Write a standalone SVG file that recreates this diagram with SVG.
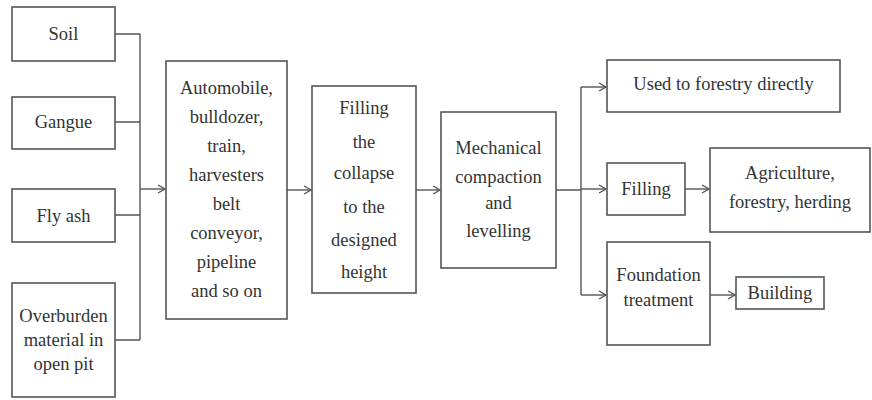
<svg xmlns="http://www.w3.org/2000/svg" width="872" height="400" viewBox="0 0 872 400">
<style>
.box{fill:#fff;stroke:#555;stroke-width:1.6}
text{font-family:"Liberation Serif","DejaVu Serif",serif;font-size:18.5px;fill:#333;text-anchor:middle}
.c{fill:none;stroke:#555;stroke-width:1.4}
</style>
<defs>
<marker id="a" markerWidth="10" markerHeight="10" refX="8" refY="5" orient="auto" markerUnits="userSpaceOnUse">
<path d="M1,1 L8,5 L1,9" fill="none" stroke="#555" stroke-width="1.4"/>
</marker>
</defs>
<rect width="872" height="400" fill="#fff"/>
<g id="connectors">
<path class="c" d="M115,34 H140 M115,122 H140 M115,215 H140 M115,340 H140 M140,34 V340"/>
<path class="c" d="M140,189 H165" marker-end="url(#a)"/>
<path class="c" d="M287,190 H311" marker-end="url(#a)"/>
<path class="c" d="M416,190 H440" marker-end="url(#a)"/>
<path class="c" d="M556,190 H581 M581,87 V295"/>
<path class="c" d="M581,87 H606" marker-end="url(#a)"/>
<path class="c" d="M581,189 H606" marker-end="url(#a)"/>
<path class="c" d="M581,295 H606" marker-end="url(#a)"/>
<path class="c" d="M685,189 H709" marker-end="url(#a)"/>
<path class="c" d="M710,295 H735" marker-end="url(#a)"/>
</g>
<g id="soil"><rect class="box" x="12" y="7" width="103" height="54"/><text x="63.5" y="40">Soil</text></g>
<g id="gangue"><rect class="box" x="12" y="97" width="103" height="52"/><text x="63.5" y="128">Gangue</text></g>
<g id="flyash"><rect class="box" x="12" y="189" width="103" height="53"/><text x="63.5" y="222">Fly ash</text></g>
<g id="overburden"><rect class="box" x="12" y="283" width="103" height="114"/><text x="63.5" y="322">Overburden</text><text x="63.5" y="346">material in</text><text x="63.5" y="370">open pit</text></g>
<g id="transport"><rect class="box" x="166" y="61" width="121" height="258"/>
<text x="226.5" y="94">Automobile,</text><text x="226.5" y="123">bulldozer,</text><text x="226.5" y="152">train,</text><text x="226.5" y="181">harvesters</text><text x="226.5" y="210">belt</text><text x="226.5" y="239">conveyor,</text><text x="226.5" y="268">pipeline</text><text x="226.5" y="297">and so on</text></g>
<g id="filling-collapse"><rect class="box" x="312" y="86" width="104" height="207"/>
<text x="364" y="114">Filling</text><text x="364" y="148">the</text><text x="364" y="179">collapse</text><text x="364" y="213">to the</text><text x="364" y="246">designed</text><text x="364" y="278">height</text></g>
<g id="mechanical"><rect class="box" x="441" y="112" width="115" height="156"/>
<text x="498.5" y="154">Mechanical</text><text x="498.5" y="183">compaction</text><text x="498.5" y="209">and</text><text x="498.5" y="237">levelling</text></g>
<g id="forestry"><rect class="box" x="607" y="60" width="233" height="52"/><text x="723.5" y="90">Used to forestry directly</text></g>
<g id="filling"><rect class="box" x="607" y="163" width="78" height="52"/><text x="646" y="195">Filling</text></g>
<g id="agri"><rect class="box" x="710" y="148" width="160" height="84"/><text x="790" y="179">Agriculture,</text><text x="790" y="208">forestry, herding</text></g>
<g id="foundation"><rect class="box" x="607" y="242" width="103" height="103"/><text x="658.5" y="281">Foundation</text><text x="658.5" y="306">treatment</text></g>
<g id="building"><rect class="box" x="736" y="277" width="88" height="32"/><text x="780" y="299">Building</text></g>
</svg>
